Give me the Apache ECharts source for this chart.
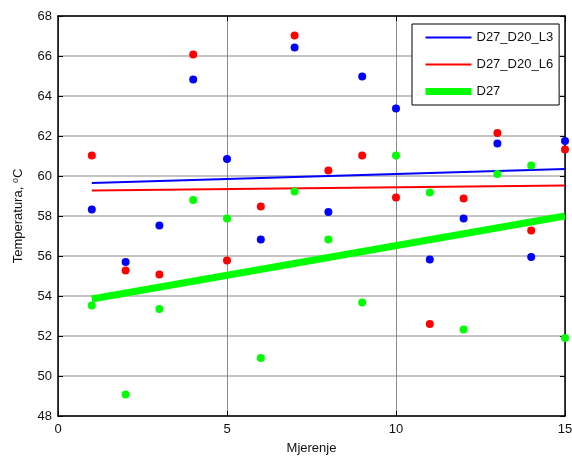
<!DOCTYPE html>
<html>
<head>
<meta charset="utf-8">
<script src="https://cdn.jsdelivr.net/npm/echarts@6/dist/echarts.min.js"></script>
<style>html,body{margin:0;padding:0;background:#fff;overflow:hidden;}#c{width:572px;height:459px;}</style>
</head>
<body>
<div id="c"></div>
<script>
var xs = [1,2,3,4,5,6,7,8,9,10,11,12,13,14,15];
var blueVals  = [58.33,55.70,57.52,64.83,60.85,56.82,66.43,58.20,64.97,63.37,55.82,57.88,61.62,55.95,61.75];
var redVals   = [61.03,55.28,55.07,66.07,55.77,58.47,67.02,60.27,61.03,58.92,52.60,58.87,62.15,57.28,61.33];
var greenVals = [53.52,49.08,53.35,58.80,57.87,50.90,59.22,56.82,53.67,61.03,59.17,52.32,60.10,60.52,51.90];
var trendX = [1, 15];
var blueTrend  = [59.65, 60.35];
var redTrend   = [59.28, 59.53];
var greenTrend = [53.85, 58.00];
var names = ['D27_D20_L3', 'D27_D20_L6', 'D27'];
var xTicks = [0, 5, 10, 15];
var yTicks = [48, 50, 52, 54, 56, 58, 60, 62, 64, 66, 68];

function pairs(xv, yv) { return xv.map(function (x, i) { return [x, yv[i]]; }); }

var font = 'Liberation Sans, Arial, sans-serif';
var chart = echarts.init(document.getElementById('c'), null, {renderer: 'canvas', width: 572, height: 459});
var axisCommon = {
  axisLine: {show: true, onZero: false, lineStyle: {color: '#000', width: 1.5}},
  axisTick: {show: true, inside: true, length: 5, lineStyle: {color: '#000', width: 1}},
  splitLine: {show: false},
  axisLabel: {show: false}
};
var hideSym = {opacity: 0, borderWidth: 0};
chart.setOption({
  animation: false,
  backgroundColor: '#fff',
  grid: {left: 58, right: 7, top: 16, bottom: 43, containLabel: false, outerBoundsMode: 'none'},
  xAxis: [
    {
      type: 'value', min: xTicks[0], max: xTicks[xTicks.length - 1], interval: 5,
      position: 'bottom',
      name: 'Mjerenje', nameLocation: 'middle', nameGap: 26,
      nameTextStyle: {fontFamily: font, fontSize: 13, color: '#111'},
      axisLine: {show: true, onZero: false, lineStyle: {color: '#000', width: 1.5}},
      axisTick: {show: true, inside: true, length: 5, lineStyle: {color: '#000'}},
      axisLabel: {fontFamily: font, fontSize: 13, color: '#111', margin: 7},
      splitLine: {show: true, lineStyle: {color: '#8c8c8c', width: 1}}
    },
    Object.assign({type: 'value', min: 0, max: 15, interval: 5, position: 'top'}, axisCommon)
  ],
  yAxis: [
    {
      type: 'value', min: yTicks[0], max: yTicks[yTicks.length - 1], interval: 2,
      position: 'left',
      name: 'Temperatura, {sup|o}C', nameLocation: 'middle', nameGap: 32,
      nameTextStyle: {fontFamily: font, fontSize: 13, color: '#111',
        rich: {sup: {fontFamily: font, fontSize: 9, color: '#111', verticalAlign: 'top', padding: [0, 0, 6, 0]}}},
      axisLine: {show: true, onZero: false, lineStyle: {color: '#000', width: 1.5}},
      axisTick: {show: true, inside: true, length: 5, lineStyle: {color: '#000'}},
      axisLabel: {fontFamily: font, fontSize: 13, color: '#111', margin: 6},
      splitLine: {show: true, lineStyle: {color: '#b0b0b0', width: 1.5}}
    },
    Object.assign({type: 'value', min: 48, max: 68, interval: 2, position: 'right'}, axisCommon)
  ],
  legend: {
    show: true, orient: 'vertical', left: 412, top: 24,
    padding: [7, 6, 7, 10], itemGap: 14, itemWidth: 46, itemHeight: 14,
    borderColor: '#000', borderWidth: 1, backgroundColor: '#fff', align: 'left',
    textStyle: {fontFamily: font, fontSize: 13, color: '#111'},
    data: [
      {name: names[0], lineStyle: {width: 2}, itemStyle: hideSym},
      {name: names[1], lineStyle: {width: 2}, itemStyle: hideSym},
      {name: names[2], lineStyle: {width: 7}, itemStyle: hideSym}
    ]
  },
  series: [
    {name: names[0], type: 'line', data: pairs(trendX, blueTrend), symbol: 'none', showSymbol: false,
     lineStyle: {color: '#0000ff', width: 2}, itemStyle: {color: '#0000ff'}, z: 3},
    {name: names[1], type: 'line', data: pairs(trendX, redTrend), symbol: 'none', showSymbol: false,
     lineStyle: {color: '#ff0000', width: 2}, itemStyle: {color: '#ff0000'}, z: 3},
    {name: names[2], type: 'line', data: pairs(trendX, greenTrend), symbol: 'none', showSymbol: false,
     lineStyle: {color: '#00ff00', width: 7}, itemStyle: {color: '#00ff00'}, z: 3},
    {name: 'pts1', type: 'scatter', data: pairs(xs, blueVals), symbolSize: 8, itemStyle: {color: '#0000ff', opacity: 1}, z: 4},
    {name: 'pts2', type: 'scatter', data: pairs(xs, redVals), symbolSize: 8, itemStyle: {color: '#ff0000', opacity: 1}, z: 4},
    {name: 'pts3', type: 'scatter', data: pairs(xs, greenVals), symbolSize: 8, itemStyle: {color: '#00ff00', opacity: 1}, z: 4}
  ]
});
</script>
</body>
</html>
